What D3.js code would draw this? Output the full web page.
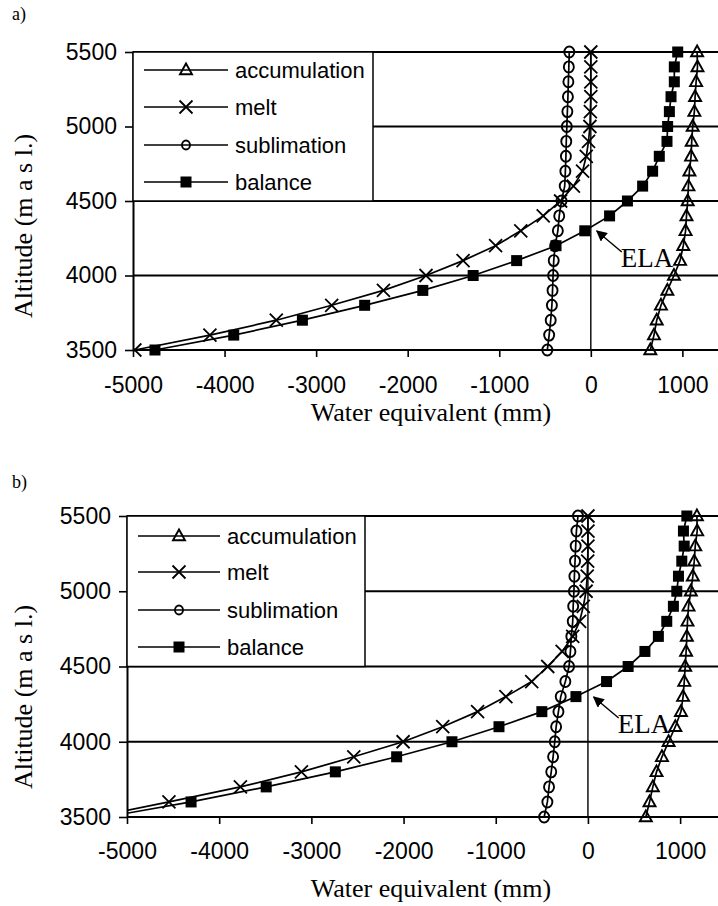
<!DOCTYPE html>
<html>
<head>
<meta charset="utf-8">
<script src="https://cdn.jsdelivr.net/npm/d3@7/dist/d3.min.js"></script>
<style>
  body { margin: 0; background: #fff; }
  svg { display: block; }
</style>
</head>
<body>
<svg id="chart" width="718" height="906"></svg>
<script>
// altitude levels (m a s l.) shared by every series
const altitudes = [3500, 3600, 3700, 3800, 3900, 4000, 4100, 4200, 4300, 4400, 4500,
                   4600, 4700, 4800, 4900, 5000, 5100, 5200, 5300, 5400, 5500]

// panel a) water equivalent (mm)
const accumA = [650, 690, 720, 766, 836, 908, 975, 1010, 1035, 1045, 1058,
                1066, 1077, 1095, 1102, 1113, 1131, 1139, 1150, 1165, 1161]
const meltA = [-4980, -4160, -3435, -2830, -2265, -1800, -1395, -1040, -765, -520, -330,
               -190, -90, -50, -25, -10, -5, 0, 0, 0, 0]
const sublA = [-475, -455, -438, -425, -418, -412, -405, -390, -360, -345, -320,
               -285, -278, -272, -268, -262, -256, -250, -245, -240, -235]
const balanceA = [-4760, -3900, -3150, -2470, -1835, -1285, -810, -380, -66, 205, 400,
                  566, 675, 748, 832, 839, 858, 876, 912, 912, 949]

// panel b)
const accumB = [628, 668, 704, 744, 803, 875, 948, 1009, 1032, 1045, 1055,
                1065, 1073, 1080, 1091, 1116, 1138, 1153, 1164, 1185, 1182]
const meltB = [-5350, -4545, -3770, -3108, -2540, -2005, -1575, -1197, -890, -610, -436,
               -280, -165, -90, -50, -20, -8, -3, 0, 0, 0]
const sublB = [-475, -440, -422, -398, -378, -360, -345, -320, -295, -245, -205,
               -190, -180, -165, -160, -152, -147, -140, -133, -125, -108]
const balanceB = [-5230, -4305, -3490, -2740, -2075, -1475, -965, -500, -130, 202, 436,
                  618, 764, 855, 927, 964, 982, 1018, 1044, 1036, 1073]

const seriesNames = ['accumulation', 'melt', 'sublimation', 'balance']
const xTicks = [-5000, -4000, -3000, -2000, -1000, 0, 1000]
const yTicks = [3500, 4000, 4500, 5000, 5500]
const xDomain = [-5000, 1400]
const yDomain = [3500, 5500]
// ELA arrow tips (mm, m)
const elaA = [65, 4299]
const elaB = [62, 4297]

const SANS = 'Liberation Sans, Arial, sans-serif'
const SERIF = 'Liberation Serif, Times New Roman, serif'
const plain = d => String(d)   // "-5000", no thousands separator

const svg = d3.select('#chart')

svg.append('defs').append('marker')
  .attr('id', 'arrow')
  .attr('viewBox', '0 0 10 10')
  .attr('refX', 9).attr('refY', 5)
  .attr('markerWidth', 11).attr('markerHeight', 11)
  .attr('markerUnits', 'userSpaceOnUse')
  .attr('orient', 'auto')
  .append('path').attr('d', 'M0,0 L10,5 L0,10 z').attr('fill', '#000')

function drawMarker(g, kind, x, y, s) {
  if (kind === 'accumulation') {
    const h = s * 0.9
    g.append('path')
      .attr('d', `M${x},${y - h * 0.6} L${x + s / 2},${y + h * 0.4} L${x - s / 2},${y + h * 0.4} Z`)
      .attr('fill', 'none').attr('stroke', '#000').attr('stroke-width', 1.9)
  } else if (kind === 'melt') {
    const r = s / 2
    g.append('path')
      .attr('d', `M${x - r},${y - r} L${x + r},${y + r} M${x - r},${y + r} L${x + r},${y - r}`)
      .attr('stroke', '#000').attr('stroke-width', 1.8)
  } else if (kind === 'sublimation') {
    g.append('ellipse')
      .attr('cx', x).attr('cy', y).attr('rx', s / 2).attr('ry', s / 2 + 0.5)
      .attr('fill', 'none').attr('stroke', '#000').attr('stroke-width', 1.9)
  } else {
    g.append('rect')
      .attr('x', x - s / 2).attr('y', y - s / 2).attr('width', s).attr('height', s)
      .attr('fill', '#000')
  }
}

const markerSize = { accumulation: 12, melt: 13, sublimation: 10, balance: 11 }
const legendSize = { accumulation: 12, melt: 13, sublimation: 8, balance: 11 }

function drawPanel(p) {
  const x = d3.scaleLinear().domain(xDomain).range([p.left, p.right])
  const y = d3.scaleLinear().domain(yDomain).range([p.bottom, p.top])
  const g = svg.append('g')

  g.append('text').text(p.label)
    .attr('x', 12).attr('y', p.labelY)
    .attr('font-family', SERIF).attr('font-size', 18)

  // horizontal grid
  g.selectAll('line.grid').data(yTicks).join('line')
    .attr('x1', p.left).attr('x2', 718)
    .attr('y1', d => y(d)).attr('y2', d => y(d))
    .attr('stroke', '#000').attr('stroke-width', 2)

  // zero line
  g.append('line')
    .attr('x1', x(0)).attr('x2', x(0))
    .attr('y1', y(5500)).attr('y2', y(3500))
    .attr('stroke', '#000').attr('stroke-width', 1.4)

  const yAxis = g.append('g')
    .attr('transform', `translate(${p.left},0)`)
    .call(d3.axisLeft(y).tickValues(yTicks).tickFormat(plain)
      .tickSize(8).tickPadding(8).tickSizeOuter(0))
  yAxis.select('.domain').attr('stroke-width', 2)
  yAxis.selectAll('.tick line').attr('stroke-width', 1.6)
  yAxis.selectAll('text').attr('font-family', SANS).attr('font-size', 23).attr('fill', '#000')

  const xAxis = g.append('g')
    .attr('transform', `translate(0,${p.bottom})`)
    .call(d3.axisBottom(x).tickValues(xTicks).tickFormat(plain)
      .tickSize(7).tickPadding(p.xPad).tickSizeOuter(0))
  xAxis.select('.domain').remove()
  xAxis.selectAll('.tick line').attr('stroke-width', 1.6)
  xAxis.selectAll('text').attr('font-family', SANS).attr('font-size', 23).attr('fill', '#000')

  g.append('text').text('Water equivalent (mm)')
    .attr('x', 431).attr('y', p.xTitleY).attr('text-anchor', 'middle')
    .attr('font-family', SERIF).attr('font-size', 26)

  g.append('text').text('Altitude (m a s l.)')
    .attr('transform', `translate(32,${p.yTitleC}) rotate(-90)`)
    .attr('text-anchor', 'middle')
    .attr('font-family', SERIF).attr('font-size', 26)

  // clip to plot area
  const clipId = 'clip-' + p.label[0]
  svg.select('defs').append('clipPath').attr('id', clipId)
    .append('rect').attr('x', p.left).attr('y', p.top - 10)
    .attr('width', 718 - p.left).attr('height', p.bottom - p.top + 20)

  const plot = g.append('g').attr('clip-path', `url(#${clipId})`)
  const line = d3.line().x(d => x(d[0])).y(d => y(d[1]))

  p.series.forEach((vals, i) => {
    const name = seriesNames[i]
    const pts = vals.map((v, j) => [v, altitudes[j]])
    plot.append('path').datum(pts)
      .attr('d', line).attr('fill', 'none')
      .attr('stroke', '#000').attr('stroke-width', 1.7)
    const mg = plot.append('g')
    pts.forEach(d => drawMarker(mg, name, x(d[0]), y(d[1]), markerSize[name]))
  })

  // ELA annotation
  const tx = x(p.ela[0]), ty = y(p.ela[1])
  g.append('line')
    .attr('x1', tx + 25).attr('y1', ty + 21)
    .attr('x2', tx).attr('y2', ty)
    .attr('stroke', '#000').attr('stroke-width', 1.4)
    .attr('marker-end', 'url(#arrow)')
  g.append('text').text('ELA')
    .attr('x', tx + 24).attr('y', ty + 36)
    .attr('font-family', SERIF).attr('font-size', 27)

  // legend
  const lg = g.append('g')
  lg.append('rect')
    .attr('x', p.left).attr('y', p.top)
    .attr('width', p.legendRight - p.left).attr('height', y(4500) - p.top)
    .attr('fill', '#fff').attr('stroke', '#000').attr('stroke-width', 1.5)
  seriesNames.forEach((name, i) => {
    const ly = p.legendRows[i]
    lg.append('line')
      .attr('x1', p.legendX0).attr('x2', p.legendX1)
      .attr('y1', ly).attr('y2', ly)
      .attr('stroke', '#000').attr('stroke-width', 1.7)
    drawMarker(lg, name, (p.legendX0 + p.legendX1) / 2, ly, legendSize[name])
    lg.append('text').text(name)
      .attr('x', p.legendX1 + 7).attr('y', ly).attr('dy', '0.35em')
      .attr('font-family', SANS).attr('font-size', 22)
  })
}

drawPanel({
  label: 'a)', labelY: 20,
  left: 133, right: 719, top: 52, bottom: 350,
  xPad: 20, xTitleY: 421, yTitleC: 226,
  series: [accumA, meltA, sublA, balanceA],
  ela: elaA,
  legendRight: 373, legendX0: 144, legendX1: 228,
  legendRows: [70, 107, 145, 182]
})

drawPanel({
  label: 'b)', labelY: 488,
  left: 127, right: 717, top: 516, bottom: 817,
  xPad: 19, xTitleY: 897, yTitleC: 697,
  series: [accumB, meltB, sublB, balanceB],
  ela: elaB,
  legendRight: 365, legendX0: 138, legendX1: 220,
  legendRows: [536, 572, 610, 647]
})
</script>
</body>
</html>
